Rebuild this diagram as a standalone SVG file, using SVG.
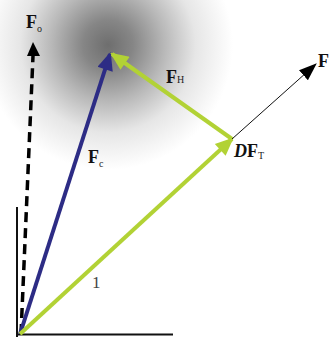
<svg xmlns="http://www.w3.org/2000/svg" width="331" height="337" viewBox="0 0 331 337">
<defs>
<radialGradient id="bg" gradientUnits="userSpaceOnUse" cx="108" cy="45" r="125">
<stop offset="0" stop-color="#6e6e6e"/>
<stop offset="0.2" stop-color="#868686"/>
<stop offset="0.45" stop-color="#b8b8b8"/>
<stop offset="0.7" stop-color="#e6e6e6"/>
<stop offset="1" stop-color="#ffffff"/>
</radialGradient>
<marker id="ahG" markerUnits="userSpaceOnUse" markerWidth="20" markerHeight="16" refX="14" refY="7" orient="auto" viewBox="0 0 16 14">
<path d="M0,0 L16,7 L0,14 Z" fill="#b2d235"/>
</marker>
<marker id="ahB" markerUnits="userSpaceOnUse" markerWidth="20" markerHeight="16" refX="14" refY="7" orient="auto" viewBox="0 0 16 14">
<path d="M0,0 L16,7 L0,14 Z" fill="#2d2c85"/>
</marker>
<marker id="ahK" markerUnits="userSpaceOnUse" markerWidth="18" markerHeight="14" refX="15" refY="6" orient="auto" viewBox="0 0 16 12">
<path d="M0,0 L16,6 L0,12 Z" fill="#000"/>
</marker>
</defs>
<style>
.lbl{font-family:"Liberation Serif","Times New Roman",serif;font-weight:bold;fill:#111;font-size:18px}
.sub{font-family:"Liberation Serif","Times New Roman",serif;font-weight:normal;font-size:10px;fill:#222}
.g{stroke:#b2d235;stroke-width:4;fill:none}
</style>
<rect width="331" height="337" fill="#fff"/>
<rect width="331" height="337" fill="url(#bg)"/>
<g id="axes" stroke="#111" stroke-width="2" fill="none">
<line x1="17" y1="207" x2="17" y2="337"/>
<line x1="16" y1="334.5" x2="173" y2="334.5"/>
</g>
<g id="connectors">
<line x1="21" y1="334" x2="33" y2="56" stroke="#000" stroke-width="3.5" stroke-dasharray="10,6"/>
<path d="M27,56 L33,42 L40,56 Z" fill="#000"/>
<line x1="20" y1="334" x2="110" y2="54" stroke="#2d2c85" stroke-width="4" marker-end="url(#ahB)"/>
<line x1="20" y1="334" x2="232" y2="139" class="g" marker-end="url(#ahG)"/>
<line x1="232" y1="139" x2="112" y2="54" class="g" marker-end="url(#ahG)"/>
<line x1="232" y1="139" x2="316" y2="64" stroke="#111" stroke-width="1" marker-end="url(#ahK)"/>
</g>
<g id="labels">
<text class="lbl" x="26" y="28">F<tspan class="sub" dy="4">o</tspan></text>
<text class="lbl" x="88" y="163">F<tspan class="sub" dy="4">c</tspan></text>
<text class="lbl" x="166" y="83">F<tspan class="sub" dy="0">H</tspan></text>
<text class="lbl" x="318" y="67">F</text>
<text class="lbl" x="234" y="157"><tspan font-style="italic">D</tspan>F<tspan class="sub" dy="2">T</tspan></text>
<text x="92" y="288" font-family="Liberation Serif, serif" font-size="17" fill="#444">1</text>
</g>
</svg>
